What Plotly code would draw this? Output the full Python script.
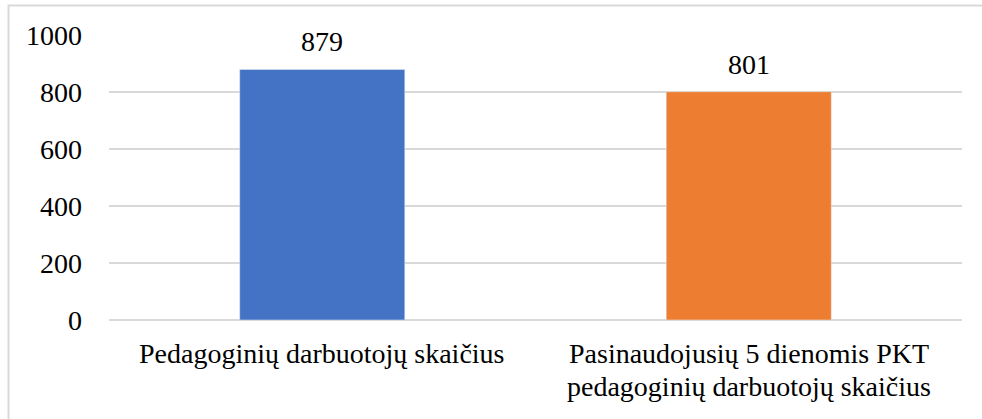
import plotly.graph_objects as go

categories = ["Pedagoginių darbuotojų skaičius", "Pasinaudojusių 5 dienomis PKT<br>pedagoginių darbuotojų skaičius"]
values = [879, 801]
colors = ["#4472C4", "#ED7D31"]
y_ticks = [0, 200, 400, 600, 800, 1000]

FONT = "Liberation Serif"
FS = 28
W, H = 982, 419
L, R, T, B = 109, 20, 35, 98.5
pw, ph = W - L - R, H - T - B

def px_x(x):
    return (x - L) / pw

def px_y(y):
    return (H - B - y) / ph

fig = go.Figure(go.Bar(x=categories, y=values, marker_color=colors))

# value labels
for c, v in zip(categories, values):
    fig.add_annotation(x=c, y=v, text=str(v), showarrow=False, yanchor="bottom",
                       yshift=10, font=dict(family=FONT, size=FS, color="#000000"))

# category labels, one annotation per line (for Office-like line spacing)
LINE0, LINE_STEP = -15.5, 33
for c in categories:
    for j, line in enumerate(c.split("<br>")):
        fig.add_annotation(x=c, xref="x", y=0, yref="paper", text=line, showarrow=False,
                           yanchor="top", yshift=LINE0 - j * LINE_STEP,
                           font=dict(family=FONT, size=FS, color="#000000"))

fig.update_layout(
    width=W, height=H,
    margin=dict(l=L, r=R, t=T, b=B),
    paper_bgcolor="white", plot_bgcolor="white",
    font=dict(family=FONT, size=FS, color="#000000"),
    bargap=0.613,
    showlegend=False,
    xaxis=dict(showgrid=False, showline=False, ticks="", showticklabels=False),
    yaxis=dict(range=[0, 1000], tickvals=y_ticks, showgrid=True, gridcolor="#d9d9d9",
               gridwidth=1.5, zeroline=True, zerolinecolor="#d9d9d9", zerolinewidth=1.5,
               showline=False, ticks="", ticklabelstandoff=26,
               tickfont=dict(family=FONT, size=FS, color="#000000")),
    shapes=[dict(type="rect", xref="paper", yref="paper",
                 x0=px_x(8.5), x1=px_x(1000), y0=px_y(5.5), y1=px_y(440),
                 line=dict(color="#d9d9d9", width=2), fillcolor="rgba(0,0,0,0)", layer="below")],
)

fig.write_html("out.html", config={"displayModeBar": False},
               post_script="document.body.style.margin='0';")
